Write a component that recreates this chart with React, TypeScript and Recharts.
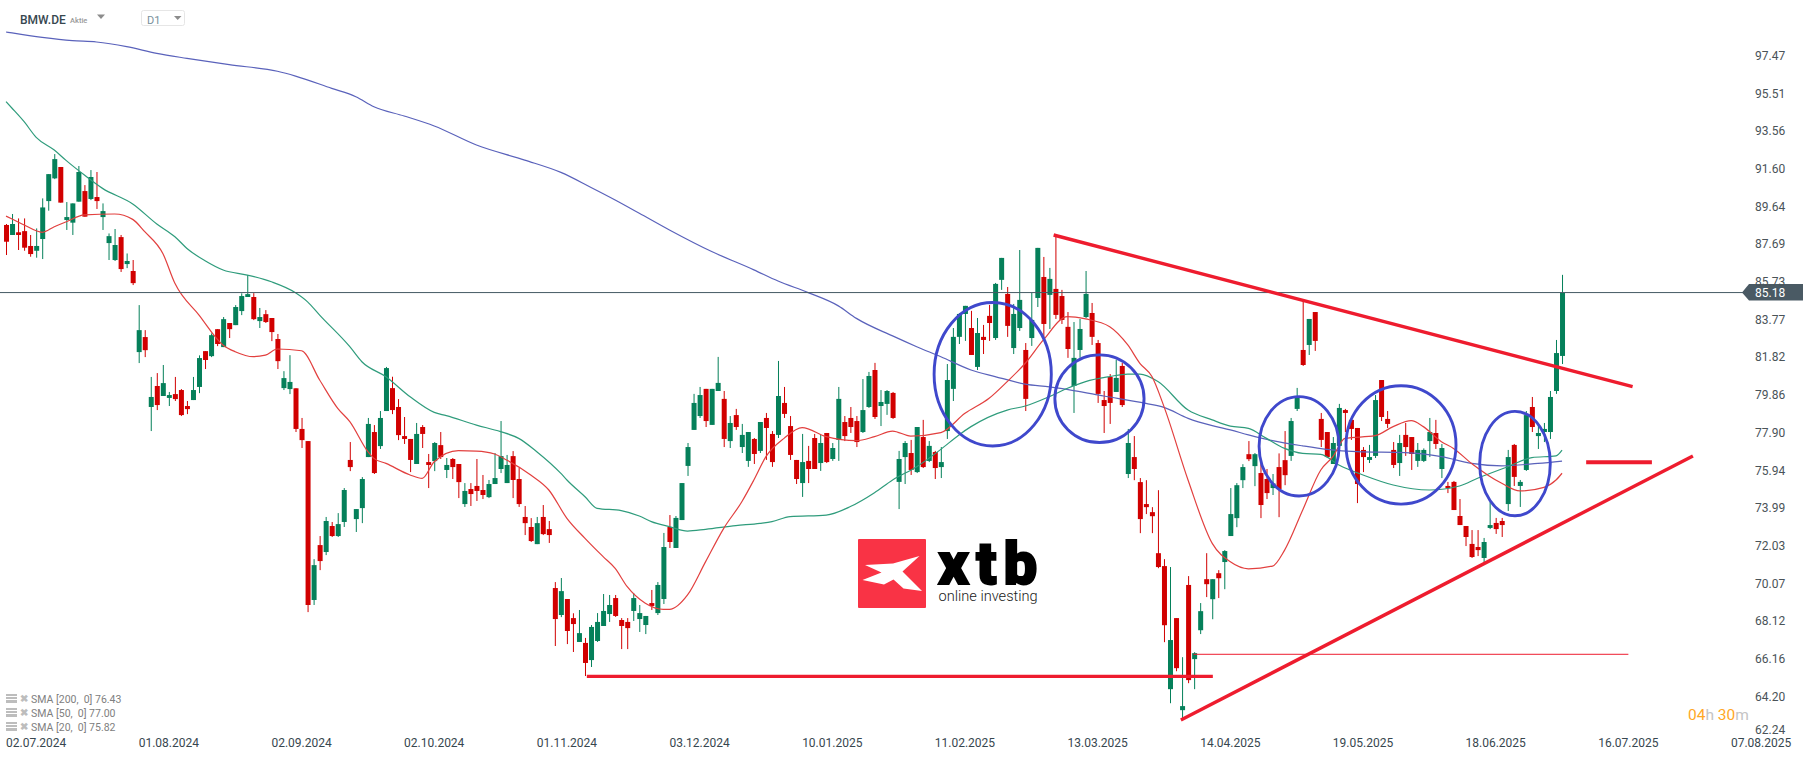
import { Bar, ComposedChart, Line, ReferenceDot, ReferenceLine, XAxis, YAxis } from "recharts";

const FONT = "Roboto, sans-serif";
const UP = "#05805a";
const DOWN = "#d10000";
const TREND = "#ee1c2e";
const CIRCLE = "#3f48cc";
const LAST_PRICE = 85.18;

const highs = [
  88.74,89.26,89.03,89.03,88.17,88.51,90.07,91.33,92.37,91.70,
  89.88,89.81,91.75,90.76,91.54,91.44,89.81,88.25,88.48,88.17,
  87.21,86.87,84.53,83.23,80.80,81.00,81.42,80.02,80.80,80.17,
  79.55,80.80,81.92,82.14,83.06,83.28,83.91,83.60,84.53,85.14,
  86.09,85.15,84.38,84.27,83.86,83.03,81.10,81.93,80.21,78.67,
  77.47,71.34,72.54,73.53,73.27,73.73,75.03,77.42,73.94,75.60,
  78.67,78.30,79.03,81.32,80.81,79.65,78.72,77.58,78.41,78.30,
  76.80,77.42,77.94,76.59,76.59,76.28,75.29,75.29,76.54,75.71,
  75.45,76.85,78.51,76.75,76.95,76.07,74.10,73.47,73.53,74.15,
  73.32,70.15,70.36,69.27,68.53,68.70,67.25,67.92,68.54,69.53,
  69.48,69.48,68.28,68.28,69.58,68.96,68.39,69.74,70.15,72.70,
  73.63,73.58,75.29,77.37,79.92,80.28,80.18,80.18,81.84,80.07,
  78.77,79.14,78.36,77.94,77.63,78.46,78.93,77.99,81.63,80.28,
  78.77,76.49,77.84,77.22,77.84,77.79,77.89,77.37,80.28,78.77,
  79.24,78.77,80.69,81.06,81.53,80.12,80.12,80.02,76.96,77.47,
  77.53,78.20,78.57,77.47,76.96,77.16,81.47,83.34,84.12,84.49,
  84.23,83.86,83.50,84.54,85.68,86.98,85.47,84.59,87.39,82.56,
  85.16,87.50,87.03,86.46,88.22,85.32,84.17,83.65,83.81,86.30,
  84.64,82.72,80.07,80.95,81.68,81.53,78.10,77.73,75.55,75.44,
  74.04,74.92,71.34,70.93,68.28,66.25,70.46,66.51,69.06,71.65,
  70.30,70.77,71.81,75.03,75.29,76.27,77.47,76.85,76.31,76.02,
  75.76,76.83,77.99,78.67,80.23,84.75,83.81,84.17,78.93,77.94,
  77.68,79.40,79.14,78.65,78.15,77.16,77.27,79.86,80.64,79.03,
  77.42,77.79,78.41,77.68,77.37,77.09,78.67,78.57,77.32,75.35,
  75.40,74.46,73.06,72.85,72.85,72.44,74.31,73.48,73.48,77.01,
  77.32,75.45,79.03,79.76,78.41,78.41,80.07,82.72,86.10,
];

const lows = [
  87.13,88.17,87.39,87.35,87.04,86.99,86.92,89.43,91.07,89.85,
  88.43,88.17,89.90,89.12,89.98,89.52,88.43,86.87,86.82,86.25,
  86.45,85.57,81.52,81.83,77.99,79.08,79.81,79.29,79.55,78.77,
  78.87,79.60,79.96,81.21,81.83,82.40,82.35,82.82,83.49,84.01,
  84.95,83.75,83.34,83.60,82.66,81.21,80.12,79.91,77.94,77.11,
  68.59,68.96,70.77,71.55,72.49,72.49,73.01,75.91,72.75,73.21,
  76.64,75.76,77.06,79.03,78.87,77.52,77.32,75.86,76.28,77.11,
  75.03,75.91,76.54,75.55,75.50,74.51,74.05,74.10,74.36,74.46,
  74.51,75.24,75.81,75.29,74.51,74.05,72.59,72.23,72.12,72.59,
  72.18,66.83,68.33,66.93,66.52,67.04,65.27,65.74,67.04,67.87,
  68.08,68.34,66.67,66.67,68.13,67.56,67.45,68.70,68.44,69.01,
  71.92,71.92,73.37,75.66,78.05,78.67,78.20,78.31,80.07,77.16,
  77.11,78.05,76.85,76.13,76.28,76.85,76.49,76.13,77.63,78.67,
  76.49,75.24,74.57,75.29,76.02,75.92,76.33,76.44,76.44,77.47,
  77.89,77.16,77.89,79.19,78.62,78.25,78.83,78.62,73.94,75.24,
  75.71,75.81,76.07,76.38,75.50,75.55,77.58,79.55,82.51,82.67,
  81.94,81.16,81.99,82.67,82.72,85.32,82.88,81.99,83.19,79.03,
  82.41,84.43,82.82,83.29,83.81,83.55,81.79,78.93,81.79,83.86,
  82.46,79.45,77.89,78.36,80.02,79.24,75.55,75.44,72.69,73.68,
  72.69,70.87,67.03,63.86,65.52,63.03,64.90,64.59,67.45,69.37,
  68.22,69.32,69.78,72.54,73.00,75.03,76.43,75.13,73.47,74.46,
  74.67,73.52,75.18,76.44,79.03,81.37,81.94,82.15,77.16,76.59,
  76.28,77.01,77.94,77.53,74.25,75.86,76.33,76.59,78.51,78.15,
  76.07,75.66,76.70,75.97,76.13,76.38,76.64,77.06,75.55,74.77,
  73.89,73.11,72.02,71.40,71.50,71.19,72.90,72.65,72.49,73.84,
  75.14,74.05,75.92,77.94,77.06,77.42,77.58,79.92,81.47,
];

const opens = [
  88.69,88.17,88.31,88.37,87.60,87.35,87.96,89.93,91.11,91.70,
  88.95,88.81,89.90,90.45,90.04,90.14,89.10,87.75,86.87,88.06,
  86.66,86.30,82.09,82.87,79.24,80.33,79.81,79.71,79.91,80.12,
  79.29,79.60,80.28,82.14,81.88,83.28,82.35,83.60,83.49,84.22,
  84.95,84.95,83.70,84.06,83.86,82.77,80.22,80.17,80.21,78.10,
  77.47,69.22,72.07,71.71,73.06,72.54,73.27,76.49,73.42,73.99,
  76.64,77.94,77.21,79.03,80.22,79.24,77.73,77.58,76.28,78.20,
  76.38,76.43,77.26,75.97,76.54,76.28,74.20,74.98,75.14,74.93,
  74.56,75.24,76.02,75.29,76.69,75.50,73.53,73.01,72.12,73.53,
  72.90,69.84,68.44,69.27,68.28,67.04,66.99,66.10,67.09,67.87,
  68.49,69.32,68.18,68.08,68.65,68.23,67.92,69.06,68.54,69.27,
  73.01,71.92,73.37,76.18,78.05,78.77,80.18,78.31,80.07,79.66,
  77.47,78.82,77.16,76.44,77.58,76.96,78.67,77.84,77.79,79.45,
  78.25,76.49,75.29,76.44,77.63,76.33,77.89,76.54,77.53,78.46,
  78.67,78.51,77.94,79.24,81.16,79.29,79.40,79.97,75.35,76.64,
  76.85,75.86,77.68,76.44,76.90,76.12,77.99,80.18,82.88,84.07,
  83.34,81.32,82.88,83.97,82.82,85.84,85.11,82.30,83.34,82.20,
  82.82,84.90,85.99,85.06,85.37,85.00,83.40,80.33,82.20,83.91,
  84.12,82.56,79.60,80.80,80.02,81.37,75.76,76.64,75.34,74.20,
  73.78,71.65,70.98,64.59,68.28,63.50,70.00,66.15,67.65,70.30,
  69.26,70.61,71.19,72.54,73.47,75.44,76.79,76.17,75.81,75.50,
  75.03,76.12,76.48,76.70,79.14,82.20,82.46,84.17,78.62,77.94,
  76.28,77.22,79.08,78.57,78.15,77.01,76.49,76.70,80.64,78.62,
  77.01,76.33,77.79,77.68,76.44,76.44,77.47,77.89,76.02,75.14,
  75.35,73.58,73.06,72.13,71.97,71.40,72.96,73.22,73.32,74.20,
  77.27,75.14,75.97,79.24,77.73,77.94,77.94,80.07,81.89,
];

const closes = [
  87.82,88.74,88.17,87.51,87.18,87.60,89.60,91.33,92.11,89.85,
  89.10,89.81,91.44,89.12,91.18,89.93,89.41,88.11,87.65,86.40,
  86.82,85.67,83.23,82.19,79.76,79.34,80.48,79.86,79.65,78.82,
  79.13,80.12,81.78,81.68,82.97,82.51,83.80,83.28,84.43,85.00,
  85.10,83.80,83.91,83.65,83.13,81.62,80.74,80.54,78.10,77.52,
  68.96,71.03,71.24,73.32,72.54,73.16,74.93,76.12,73.94,75.50,
  78.36,75.81,78.67,81.26,79.08,77.78,77.58,76.49,77.84,77.84,
  76.23,77.37,76.64,76.23,76.12,75.34,74.88,74.72,74.88,74.67,
  75.24,75.55,76.69,76.23,75.45,74.20,73.21,72.28,73.21,72.64,
  72.59,68.23,69.68,67.61,67.97,67.50,65.95,67.82,68.08,68.65,
  68.96,68.39,67.87,67.76,69.32,68.54,68.39,68.91,70.00,71.97,
  72.23,73.48,75.29,77.16,79.45,79.86,78.51,80.18,80.49,77.58,
  78.41,78.20,77.79,77.94,76.80,78.46,78.15,76.38,79.81,78.88,
  76.75,75.50,76.38,76.02,76.02,77.37,76.38,77.11,79.66,77.73,
  78.20,77.42,79.08,80.85,78.72,79.50,80.07,78.67,76.54,77.37,
  75.97,78.20,76.12,77.22,76.07,76.38,80.64,82.88,84.07,84.49,
  81.94,83.08,82.72,83.60,85.63,86.98,83.45,84.07,84.80,79.66,
  83.76,87.50,83.55,85.89,84.02,83.76,82.25,81.79,83.29,85.11,
  82.88,79.92,79.29,79.45,80.75,79.34,77.37,76.02,73.42,74.04,
  73.57,70.93,67.91,67.14,65.68,63.71,65.06,66.46,68.64,70.04,
  70.30,70.35,71.76,73.68,75.18,76.12,76.53,76.79,74.15,74.77,
  75.27,74.98,75.70,78.51,79.76,81.42,83.81,82.67,77.53,76.64,
  77.37,79.19,78.93,78.10,75.24,76.64,76.64,79.60,78.72,78.36,
  76.23,77.37,77.16,76.80,77.01,77.01,77.94,77.32,77.11,75.03,
  73.89,73.11,72.49,71.45,71.81,72.23,73.11,72.90,73.11,76.64,
  75.61,75.35,78.82,78.20,77.89,78.10,79.76,82.04,85.18,
];

const sma200At = [0,1,6,11,15,20,25,30,37,45,48,54,58,61,66,71,78,86,92,97,101,105,110,117,124,128,133,138,141,147,151,155,160,164,169,173,177,182,189,192,196,200,203,206,210,215,219,224,232,238,243,248,254,258];
const sma200 = [98.71,98.66,98.43,98.26,98.19,97.95,97.60,97.34,97.01,96.67,96.42,95.78,95.35,94.83,94.35,93.83,92.84,92.06,91.42,90.64,89.99,89.30,88.43,87.31,86.36,85.78,85.18,84.49,83.84,82.93,82.37,81.85,81.16,80.82,80.43,80.28,80.09,79.81,79.43,79.22,78.65,78.27,78.05,77.79,77.49,77.22,77.04,76.92,76.87,76.66,76.31,76.18,76.31,76.43];

const sma50At = [0,1,3,5,8,10,13,16,21,25,28,30,33,36,40,44,48,50,52,57,59,63,67,71,73,78,82,85,88,92,93,96,98,102,105,107,110,113,116,121,125,127,130,136,140,144,147,151,155,158,160,166,169,173,176,179,183,186,188,191,196,200,203,206,209,212,215,218,221,225,230,236,241,244,249,253,257,258];
const sma50 = [95.09,94.75,94.05,93.24,92.58,92.03,91.28,90.59,89.78,88.74,88.08,87.47,86.83,86.35,86.09,85.74,85.17,84.70,84.01,82.37,81.59,80.81,79.77,78.96,78.79,78.30,77.96,77.61,76.92,75.79,75.45,74.58,73.98,73.86,73.58,73.29,73.03,72.80,72.89,73.08,73.20,73.29,73.55,73.63,74.07,74.79,75.45,76.14,77.04,77.79,78.22,79.08,79.29,79.78,80.21,80.56,80.82,80.95,80.95,80.56,79.08,78.57,78.25,78.13,77.61,77.09,76.83,76.78,76.23,75.71,75.19,74.93,75.14,75.54,76.14,76.61,76.70,77.00];

const sma20At = [0,1,3,6,8,10,13,18,21,23,26,28,32,36,38,41,43,45,49,52,55,57,60,61,63,67,69,71,75,78,81,83,87,90,93,96,99,101,103,106,109,110,113,116,119,122,124,126,129,132,136,141,144,147,150,155,159,163,166,169,172,176,179,183,186,188,190,192,196,200,203,206,210,212,215,218,220,222,227,230,233,235,238,240,243,248,251,255,257,258];
const sma20 = [89.15,89.0,88.69,88.31,88.60,88.86,89.21,89.26,88.98,88.34,87.21,85.66,84.01,82.45,82.11,81.85,81.93,82.25,82.16,80.64,79.17,78.48,76.92,76.57,76.31,75.71,75.53,76.40,76.97,76.95,76.80,76.49,75.71,74.93,73.46,72.42,71.47,70.86,69.91,69.05,68.73,68.73,69.48,71.21,72.94,74.32,75.45,76.66,77.61,78.17,77.70,77.49,77.70,77.99,77.73,77.91,78.91,79.69,80.56,81.51,82.72,83.93,83.81,83.41,82.46,81.51,80.82,79.26,75.44,72.16,71.20,70.84,70.98,71.81,73.89,75.97,76.66,77.61,77.75,78.22,78.53,78.22,77.44,77.09,76.31,75.28,74.88,75.07,75.45,75.80];

const dateTicks = [0,22,44,66,88,110,132,154,176,198,220,242,264,286];
const dateLabels = ["02.07.2024","01.08.2024","02.09.2024","02.10.2024","01.11.2024","03.12.2024","10.01.2025","11.02.2025","13.03.2025","14.04.2025","19.05.2025","18.06.2025","16.07.2025","07.08.2025"];
const priceTicks = [97.47,95.51,93.56,91.6,89.64,87.69,85.73,83.77,81.82,79.86,77.9,75.94,73.99,72.03,70.07,68.12,66.16,64.2,62.24];

const smaLegend = ["SMA [200,  0] 76.43", "SMA [50,  0] 77.00", "SMA [20,  0] 75.82"];

// x is the candle index, y the price
const trendLines = [
  { from: [173.7, 88.17], to: [269.7, 80.3], width: 3.4 },
  { from: [194.8, 62.99], to: [279.7, 76.7], width: 3.4 },
  { from: [96.3, 65.25], to: [200.1, 65.25], width: 3.2 },
  { from: [262, 76.37], to: [272.9, 76.37], width: 3.8 },
  { from: [196.9, 66.4], to: [269, 66.4], width: 1 },
];

const circles = [
  { i: 163.6, price: 80.94, rx: 58.6, ry: 71.7 },
  { i: 181.3, price: 79.67, rx: 44.6, ry: 43.8 },
  { i: 214.4, price: 77.2, rx: 40, ry: 49.7 },
  { i: 231.3, price: 77.27, rx: 55, ry: 59.2 },
  { i: 250.2, price: 76.3, rx: 35.3, ry: 52.2 },
];

function pick(index: number[], values: number[], i: number) {
  const at = index.indexOf(i);
  return at === -1 ? null : values[at];
}

const rows = highs.map((high, i) => ({
  i,
  high,
  low: lows[i],
  open: opens[i],
  close: closes[i],
  sma200: pick(sma200At, sma200, i),
  sma50: pick(sma50At, sma50, i),
  sma20: pick(sma20At, sma20, i),
}));

function Candle(props: any) {
  const { x, y, width, height, payload } = props;
  const top = Math.min(y, y + height);
  const span = Math.abs(height);
  const perUnit = span / (payload.high - payload.low);
  const toY = (p: number) => top + (payload.high - p) * perUnit;
  const color = payload.close >= payload.open ? UP : DOWN;
  const bodyTop = toY(Math.max(payload.open, payload.close));
  const bodyBottom = toY(Math.min(payload.open, payload.close));
  const mid = x + width / 2;
  return (
    <g>
      <line x1={mid} x2={mid} y1={top} y2={top + span} stroke={color} strokeWidth={1} />
      <rect x={x} y={bodyTop} width={width} height={Math.max(bodyBottom - bodyTop, 1)} fill={color} />
    </g>
  );
}

function DateTick({ x, y, payload }: any) {
  const label = dateLabels[dateTicks.indexOf(payload.value)];
  return (
    <text x={x} y={y + 11.5} textAnchor="start" fontFamily={FONT} fontSize={12} fill="#37474f">
      {label}
    </text>
  );
}

function PriceTick({ x, y, payload }: any) {
  // the lowest label gets pushed up so that it stays above the date row
  const shift = payload.value === 62.24 ? -4 : 0;
  return (
    <text x={x} y={y + shift + 4} textAnchor="start" fontFamily={FONT} fontSize={12} fill="#4a5358">
      {payload.value.toFixed(2)}
    </text>
  );
}

function PriceMarker({ viewBox }: any) {
  const y = viewBox.y;
  const right = viewBox.x + viewBox.width;
  return (
    <g>
      <polygon
        points={`${right - 7},${y} ${right},${y - 8.5} ${right + 54},${y - 8.5} ${right + 54},${y + 8} ${right},${y + 8}`}
        fill="#4a5a64"
      />
      <text x={right + 6} y={y + 4} fontFamily={FONT} fontSize={12} fill="#ffffff">
        {LAST_PRICE.toFixed(2)}
      </text>
    </g>
  );
}

function Ellipse({ cx, cy, rx, ry }: any) {
  return <ellipse cx={cx} cy={cy} rx={rx} ry={ry} fill="none" stroke={CIRCLE} strokeWidth={2.9} />;
}

function Logo() {
  return (
    <svg width={1815} height={759} style={{ position: "absolute", left: 0, top: 0 }}>
      <rect x={858} y={539} width={68} height={69} rx={1} fill="#f93345" />
      <polygon
        points="865,565 893,563.5 919.5,556 902.5,571.5 922,591 903.5,588.5 893.5,579.5 884,584.5 862.5,580 881.5,572.5"
        fill="#ffffff"
      />
      <text x={938} y={583.5} fontFamily={FONT} fontWeight={900} fontSize={60} letterSpacing={7} stroke="#000000" strokeWidth={1.8} fill="#000000">
        xtb
      </text>
      <text x={938.5} y={601} fontFamily={FONT} fontWeight={300} fontSize={14.6} fill="#1a1a1a">
        online investing
      </text>
    </svg>
  );
}

function Overlay() {
  return (
    <svg width={1815} height={759} style={{ position: "absolute", left: 0, top: 0, pointerEvents: "none" }}>
      <text x={20} y={23.5} fontFamily={FONT} fontWeight={500} fontSize={12} fill="#37474f">BMW.DE</text>
      <text x={70} y={23} fontFamily={FONT} fontWeight={500} fontSize={7.5} fill="#9a9a9a">Aktie</text>
      <polygon points="97,14.5 105,14.5 101,19" fill="#8c8c8c" />
      <rect x={141.5} y={10.5} width={43} height={15} rx={2} fill="#ffffff" stroke="#e6e6e6" />
      <text x={147} y={24} fontFamily={FONT} fontSize={11} fill="#78909c">D1</text>
      <polygon points="174,16 181.5,16 177.7,20" fill="#8c8c8c" />
      {smaLegend.map((label, n) => {
        const mid = 699 + n * 14;
        return (
          <g key={label}>
            <rect x={6} y={mid - 5} width={11} height={2} fill="#bdbdbd" />
            <rect x={6} y={mid - 2} width={11} height={2} fill="#bdbdbd" />
            <rect x={6} y={mid + 1} width={11} height={3} fill="#bdbdbd" />
            <text x={19.5} y={mid + 3} fontFamily={FONT} fontWeight={700} fontSize={10} fill="#bdbdbd">✖</text>
            <text x={31} y={mid + 4} fontFamily={FONT} fontSize={10.5} fill="#808080" style={{ whiteSpace: "pre" }}>{label}</text>
          </g>
        );
      })}
      <text x={1688} y={719.5} fontFamily={FONT} fontWeight={400} fontSize={15.5}>
        <tspan fill="#ffa726">04</tspan>
        <tspan fill="#c4c4c4">h </tspan>
        <tspan fill="#ffa726">30</tspan>
        <tspan fill="#c4c4c4">m</tspan>
      </text>
    </svg>
  );
}

export default function App() {
  return (
    <div style={{ position: "absolute", left: 0, top: 0, width: 1815, height: 759, background: "#ffffff", overflow: "hidden" }}>
      <Logo />
      <div style={{ position: "absolute", left: 0, top: 0 }}>
        <ComposedChart width={1815} height={759} data={rows} margin={{ top: 0, right: 0, bottom: 0, left: 0 }}>
          <XAxis
            dataKey="i"
            type="number"
            domain={[-1, 289]}
            ticks={dateTicks}
            interval={0}
            height={24}
            axisLine={false}
            tickLine={false}
            tickSize={0}
            tickMargin={0}
            tick={DateTick}
          />
          <YAxis
            orientation="right"
            type="number"
            domain={[62.21, 100.37]}
            ticks={priceTicks}
            interval={0}
            width={66}
            axisLine={false}
            tickLine={false}
            tickSize={0}
            tickMargin={6}
            tick={PriceTick}
          />
          <Line dataKey="sma200" type="monotone" connectNulls dot={false} activeDot={false} stroke="#5a62bb" strokeWidth={1.2} isAnimationActive={false} />
          <Line dataKey="sma50" type="monotone" connectNulls dot={false} activeDot={false} stroke="#2f9c7c" strokeWidth={1.2} isAnimationActive={false} />
          <Line dataKey="sma20" type="monotone" connectNulls dot={false} activeDot={false} stroke="#e2403f" strokeWidth={1.2} isAnimationActive={false} />
          <Bar dataKey={(d: any) => [d.low, d.high]} barSize={5} shape={Candle} isAnimationActive={false} />
          <ReferenceLine y={LAST_PRICE} stroke="#455a64" strokeWidth={1} label={PriceMarker} />
          {trendLines.map((t) => (
            <ReferenceLine
              key={t.from.join()}
              segment={[
                { x: t.from[0], y: t.from[1] },
                { x: t.to[0], y: t.to[1] },
              ]}
              stroke={TREND}
              strokeWidth={t.width}
            />
          ))}
          {circles.map((c) => (
            <ReferenceDot key={c.i} x={c.i} y={c.price} r={1} shape={(p: any) => <Ellipse cx={p.cx} cy={p.cy} rx={c.rx} ry={c.ry} />} />
          ))}
        </ComposedChart>
      </div>
      <Overlay />
    </div>
  );
}
